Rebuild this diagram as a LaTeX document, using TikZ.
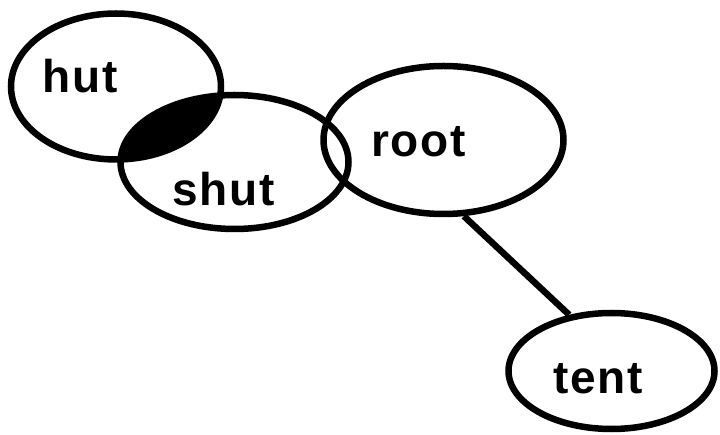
\documentclass[tikz,border=0pt]{standalone}
\usepackage{fontspec}
\setmainfont{Liberation Sans}[LetterSpace=4]
\usetikzlibrary{shapes.geometric}
\begin{document}
\begin{tikzpicture}[x=1pt,y=-1pt,
  blob/.style={ellipse,draw=black,line width=6.5pt,inner sep=0pt},
  word/.style={anchor=base west,inner sep=0pt,font=\fontsize{46}{50}\selectfont\bfseries}]
\useasboundingbox (0,0) rectangle (720,435);
% overlap of hut and shut
\begin{scope}
  \clip (116,86.5) ellipse [x radius=105pt, y radius=73pt];
  \fill[black] (234.5,162) ellipse [x radius=114pt, y radius=67pt];
\end{scope}
\node[blob,minimum width=210pt,minimum height=146pt] (hutE) at (116,86.5) {};
\node[blob,minimum width=228pt,minimum height=134pt] (shutE) at (234.5,162) {};
\node[blob,minimum width=240pt,minimum height=148pt] (rootE) at (443.5,140) {};
\node[blob,minimum width=206pt,minimum height=116pt] (tentE) at (611.5,371) {};
\node[word] (hut) at (42,93) {hut};
\node[word] (shut) at (172,206) {shut};
\node[word] (root) at (371,157) {root};
\node[word] (tent) at (553,393) {tent};
\draw[line width=6.5pt] (rootE.-75) -- (tentE.127);
\end{tikzpicture}
\end{document}
